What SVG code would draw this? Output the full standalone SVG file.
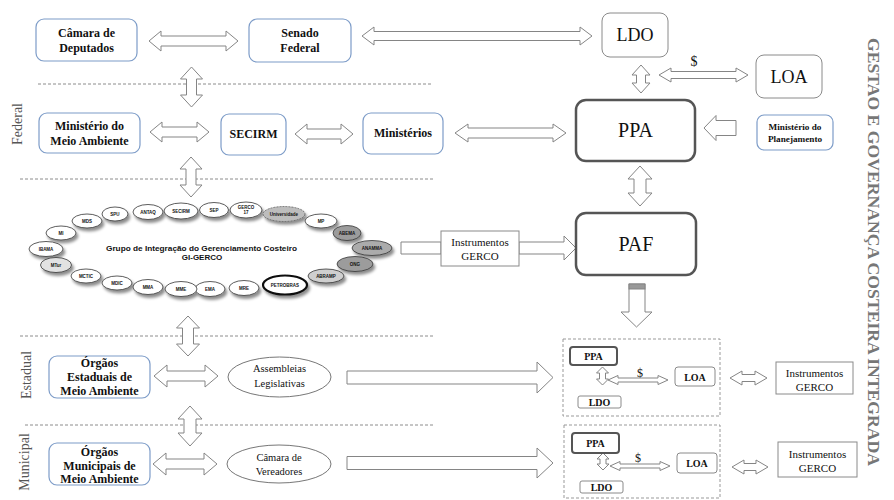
<svg xmlns="http://www.w3.org/2000/svg" width="894" height="500" viewBox="0 0 894 500">
<defs>
<style>
.bx{fill:#fff;stroke:#7d9cc8;stroke-width:1.2}
.gx{fill:#fff;stroke:#8a8a8a;stroke-width:1}
.tk{fill:#fff;stroke:#555;stroke-width:2.5}
.tks{fill:#fff;stroke:#555;stroke-width:2}
.ar{fill:#fff;stroke:#858585;stroke-width:1}
.dl{stroke:#8c8c8c;stroke-width:1;stroke-dasharray:3 2;fill:none}
.db{stroke:#999;stroke-width:1;stroke-dasharray:3 2;fill:none}
.b{font-family:"Liberation Serif",serif;font-weight:bold;font-size:12px;text-anchor:middle;fill:#111}
.bs{font-family:"Liberation Serif",serif;font-weight:bold;font-size:10px;text-anchor:middle;fill:#111}
.bp{font-family:"Liberation Serif",serif;font-weight:bold;font-size:9.2px;text-anchor:middle;fill:#111}
.r{font-family:"Liberation Serif",serif;font-size:11px;text-anchor:middle;fill:#111}
.re{font-family:"Liberation Serif",serif;font-size:10.5px;text-anchor:middle;fill:#111}
.big{font-family:"Liberation Serif",serif;text-anchor:middle;fill:#111}
.side{font-family:"Liberation Serif",serif;font-size:14px;text-anchor:middle;fill:#555}
.el{fill:#fff;stroke:#333;stroke-width:0.8}
.et{font-family:"Liberation Sans",sans-serif;font-weight:bold;font-size:4.5px;text-anchor:middle;fill:#111}
.gt{font-family:"Liberation Sans",sans-serif;font-weight:bold;font-size:8px;text-anchor:middle;fill:#111}
</style>
<filter id="sh" x="-30%" y="-30%" width="160%" height="190%">
<feDropShadow dx="2" dy="3" stdDeviation="1.8" flood-color="#000" flood-opacity="0.45"/>
</filter>
</defs>
<rect width="894" height="500" fill="#fff"/>

<g id="separators">
<line class="dl" x1="38" y1="84" x2="432" y2="84"/>
<line class="dl" x1="20" y1="179" x2="433" y2="179"/>
<line class="dl" x1="20" y1="336" x2="433" y2="336"/>
<line class="dl" x1="25" y1="425" x2="433" y2="425"/>
</g>

<g id="labels">
<text class="side" transform="translate(22,124) rotate(-90)">Federal</text>
<text class="side" transform="translate(31,375) rotate(-90)">Estadual</text>
<text class="side" transform="translate(29,462) rotate(-90)">Municipal</text>
<text transform="translate(868,252) rotate(90)" font-family="Liberation Serif,serif" font-weight="bold" font-size="16" fill="#777" text-anchor="middle" textLength="428" lengthAdjust="spacingAndGlyphs">GESTAO E GOVERNANÇA COSTEIRA INTEGRADA</text>
</g>

<g id="connectors">
<path class="ar" d="M149,41 L161,31 V36 H226 V31 L238,41 L226,51 V46 H161 V51 Z"/>
<path class="ar" d="M362,36 L374,27 V31.5 H580 V27 L592,36 L580,45 V40.5 H374 V45 Z"/>
<path class="ar" d="M191.5,67 L202.5,79 H196.5 V95 H202.5 L191.5,107 L180.5,95 H186.5 V79 H180.5 Z"/>
<path class="ar" d="M150,132 L162,122 V127 H197 V122 L209,132 L197,142 V137 H162 V142 Z"/>
<path class="ar" d="M295,134 L307,124 V129 H341 V124 L353,134 L341,144 V139 H307 V144 Z"/>
<path class="ar" d="M455,133 L468,124 V128 H553 V124 L566,133 L553,142 V138 H468 V142 Z"/>
<path class="ar" d="M191,157 L202,169 H196 V185 H202 L191,197 L180,185 H186 V169 H180 Z"/>
<path class="ar" d="M641,65 L650,75 H645.5 V83 H650 L641,93 L632,83 H636.5 V75 H632 Z"/>
<path class="ar" d="M659,75 L671,68 V71.5 H736 V68 L748,75 L736,82 V78.5 H671 V82 Z"/>
<path class="ar" d="M704,128 L716,115.5 V120.5 H736 V135.5 H716 V140.5 Z"/>
<path class="ar" d="M640,166 L652,179 H646 V193 H652 L640,206 L628,193 H634 V179 H628 Z"/>
<path class="ar" d="M629,284 H645 V312 H652 L636.5,327 L621,312 H629 Z"/>
<rect x="629" y="284" width="16" height="5" fill="#999" stroke="#858585" stroke-width="1"/>
<path class="ar" d="M401,242 H441 V254 H401 Z"/>
<path class="ar" d="M519,242 H564 V236 L576,248 L564,260 V254 H519 Z"/>
<path class="ar" d="M188,316 L199.5,328 H193.5 V344 H199.5 L188,356 L176.5,344 H182.5 V328 H176.5 Z"/>
<path class="ar" d="M154,376 L167,365 V371 H205 V365 L218,376 L205,387 V381 H167 V387 Z"/>
<path class="ar" d="M347,371 H537 V362 L553,377.5 L537,393 V384 H347 Z"/>
<path class="ar" d="M602.5,367 L608.5,373 H605.5 V379 H608.5 L602.5,385 L596.5,379 H599.5 V373 H596.5 Z"/>
<path class="ar" d="M608,380 L618,375.5 V378 H658 V375.5 L668,380 L658,384.5 V382 H618 V384.5 Z"/>
<path class="ar" d="M730,378 L742,371 V374.5 H755 V371 L767,378 L755,385 V381.5 H742 V385 Z"/>
<path class="ar" d="M190,406 L202,419 H196 V433 H202 L190,446 L178,433 H184 V419 H178 Z"/>
<path class="ar" d="M153,464 L166,453 V459 H204 V453 L217,464 L204,475 V469 H166 V475 Z"/>
<path class="ar" d="M347,456.5 H537 V448 L553,463 L537,478 V469.5 H347 Z"/>
<path class="ar" d="M603,453 L609,459 H606 V464 H609 L603,470 L597,464 H600 V459 H597 Z"/>
<path class="ar" d="M610,466 L620,461.5 V464 H660 V461.5 L670,466 L660,470.5 V468 H620 V470.5 Z"/>
<path class="ar" d="M732,467 L744,460 V463.5 H756 V460 L768,467 L756,474 V470.5 H744 V474 Z"/>
</g>

<g id="camara-deputados">
<rect class="bx" x="36" y="19" width="101" height="42" rx="8"/>
<text class="b" x="86.5" y="37">Câmara de</text>
<text class="b" x="86.5" y="52">Deputados</text>
</g>
<g id="senado-federal">
<rect class="bx" x="249" y="19" width="102" height="43" rx="8"/>
<text class="b" x="300" y="37">Senado</text>
<text class="b" x="300" y="52">Federal</text>
</g>
<g id="ldo">
<rect class="gx" x="602" y="13" width="66" height="44" rx="8"/>
<text class="big" x="635" y="41" font-size="18">LDO</text>
</g>
<g id="loa">
<rect class="gx" x="756" y="55" width="66" height="43" rx="8"/>
<text class="big" x="789" y="83" font-size="18">LOA</text>
</g>
<text class="big" x="694" y="66" font-size="14">$</text>
<g id="ministerio-meio-ambiente">
<rect class="bx" x="39" y="113" width="101" height="40" rx="8"/>
<text class="b" x="89.5" y="130">Ministério do</text>
<text class="b" x="89.5" y="145">Meio Ambiente</text>
</g>
<g id="secirm">
<rect class="bx" x="221" y="114" width="65" height="41" rx="8"/>
<text class="b" x="253.5" y="138">SECIRM</text>
</g>
<g id="ministerios">
<rect class="bx" x="363" y="113" width="80" height="41" rx="8"/>
<text class="b" x="403" y="137">Ministérios</text>
</g>
<g id="ppa">
<rect class="tk" x="576" y="100" width="119" height="61" rx="10"/>
<text class="big" x="635.5" y="137" font-size="20">PPA</text>
</g>
<g id="ministerio-planejamento">
<rect class="bx" x="757" y="115" width="76" height="35" rx="7"/>
<text class="bp" x="795" y="130">Ministério do</text>
<text class="bp" x="795" y="142">Planejamento</text>
</g>
<g id="paf">
<rect class="tk" x="576" y="213" width="120" height="62" rx="10"/>
<text class="big" x="636" y="251" font-size="20">PAF</text>
</g>
<g id="instrumentos-gerco-federal">
<rect class="gx" x="441" y="231" width="78" height="35"/>
<text class="r" x="480" y="246">Instrumentos</text>
<text class="r" x="480" y="260">GERCO</text>
</g>

<g id="gi-gerco">
<g filter="url(#sh)">
<ellipse class="el" cx="46" cy="249" rx="17" ry="7.5"/>
<ellipse class="el" cx="61" cy="233" rx="15" ry="7"/>
<ellipse class="el" cx="87" cy="221" rx="15" ry="7"/>
<ellipse class="el" cx="115" cy="214" rx="13" ry="7"/>
<ellipse class="el" cx="148" cy="212" rx="15" ry="7.5"/>
<ellipse class="el" cx="181" cy="211" rx="17" ry="8"/>
<ellipse class="el" cx="214" cy="210" rx="14.5" ry="7.5"/>
<ellipse class="el" cx="246" cy="210" rx="16" ry="8"/>
<ellipse cx="284" cy="214" rx="21" ry="7.5" fill="#bdbdbd" stroke="#555" stroke-width="0.8" stroke-dasharray="2 1"/>
<ellipse class="el" cx="321" cy="221" rx="16" ry="7"/>
<ellipse cx="347" cy="233" rx="14" ry="7.5" fill="#9c9c9c" stroke="#333" stroke-width="0.8"/>
<ellipse cx="372" cy="248" rx="20" ry="7.5" fill="#ababab" stroke="#333" stroke-width="0.8"/>
<ellipse cx="355" cy="264" rx="18" ry="7.5" fill="#9c9c9c" stroke="#333" stroke-width="0.8"/>
<ellipse cx="326" cy="276" rx="18" ry="7" fill="#cfcfcf" stroke="#333" stroke-width="0.8"/>
<ellipse cx="285" cy="285" rx="22" ry="9.5" fill="#fff" stroke="#111" stroke-width="2.2"/>
<ellipse class="el" cx="244" cy="288" rx="15" ry="7.5"/>
<ellipse class="el" cx="210" cy="289" rx="15" ry="7.5"/>
<ellipse class="el" cx="181" cy="289" rx="16" ry="7.5"/>
<ellipse class="el" cx="148" cy="287" rx="15" ry="7.5"/>
<ellipse class="el" cx="117" cy="283" rx="15" ry="7"/>
<ellipse class="el" cx="86" cy="276" rx="15" ry="7"/>
<ellipse cx="56" cy="265" rx="15.5" ry="7.5" fill="#e2e2e2" stroke="#333" stroke-width="0.8"/>
</g>
<text class="et" x="46" y="250.6">IBAMA</text>
<text class="et" x="61" y="234.6">MI</text>
<text class="et" x="87" y="222.6">MDS</text>
<text class="et" x="115" y="215.6">SPU</text>
<text class="et" x="148" y="213.6">ANTAQ</text>
<text class="et" x="181" y="212.6">SECIRM</text>
<text class="et" x="214" y="211.6">SEP</text>
<text class="et" x="246" y="209">GERCO</text>
<text class="et" x="246" y="214">17</text>
<text class="et" x="284" y="215.6">Universidade</text>
<text class="et" x="321" y="222.6">MP</text>
<text class="et" x="347" y="234.6">ABEMA</text>
<text class="et" x="372" y="249.6">ANAMMA</text>
<text class="et" x="355" y="265.6">ONG</text>
<text class="et" x="326" y="277.6">ABRAMP</text>
<text class="et" x="285" y="286.6">PETROBRAS</text>
<text class="et" x="244" y="289.6">MRE</text>
<text class="et" x="210" y="290.6">EMA</text>
<text class="et" x="181" y="290.6">MME</text>
<text class="et" x="148" y="288.6">MMA</text>
<text class="et" x="117" y="284.6">MDIC</text>
<text class="et" x="86" y="277.6">MCTIC</text>
<text class="et" x="56" y="266.6">MTur</text>
<text class="gt" x="201.5" y="251" textLength="191" lengthAdjust="spacingAndGlyphs">Grupo de Integração do Gerenciamento Costeiro</text>
<text class="gt" x="202" y="260">GI-GERCO</text>
</g>

<g id="orgaos-estaduais">
<rect class="bx" x="49" y="356" width="101" height="42" rx="8"/>
<text class="b" x="99.5" y="367">Órgãos</text>
<text class="b" x="99.5" y="381">Estaduais de</text>
<text class="b" x="99.5" y="395">Meio Ambiente</text>
</g>
<g id="assembleias">
<ellipse cx="279.5" cy="377" rx="51.5" ry="20" fill="#fff" stroke="#777" stroke-width="1"/>
<text class="re" x="279.5" y="372">Assembleias</text>
<text class="re" x="279.5" y="387">Legislativas</text>
</g>
<g id="estadual-orcamento">
<rect class="db" x="563" y="339" width="157" height="77"/>
<rect class="tks" x="570" y="347" width="47" height="18" rx="3"/>
<text class="bs" x="593.5" y="359.5">PPA</text>
<rect class="gx" x="578" y="396" width="43" height="12" rx="2"/>
<text class="bs" x="599.5" y="405.5">LDO</text>
<text class="big" x="640" y="377" font-size="12">$</text>
<rect class="gx" x="675" y="367" width="40" height="19" rx="3"/>
<text class="bs" x="695" y="380.5">LOA</text>
</g>
<g id="instrumentos-gerco-estadual">
<rect class="gx" x="776" y="362" width="77" height="32"/>
<text class="r" x="814.5" y="377">Instrumentos</text>
<text class="r" x="814.5" y="391">GERCO</text>
</g>

<g id="orgaos-municipais">
<rect class="bx" x="49" y="443" width="101" height="42" rx="8"/>
<text class="b" x="99.5" y="456">Órgãos</text>
<text class="b" x="99.5" y="470">Municipais de</text>
<text class="b" x="99.5" y="483">Meio Ambiente</text>
</g>
<g id="camara-vereadores">
<ellipse cx="279" cy="464" rx="52" ry="19" fill="#fff" stroke="#777" stroke-width="1"/>
<text class="re" x="279" y="461">Câmara de</text>
<text class="re" x="279" y="475">Vereadores</text>
</g>
<g id="municipal-orcamento">
<rect class="db" x="564" y="425" width="156" height="73"/>
<rect class="tks" x="572" y="433" width="47" height="20" rx="3"/>
<text class="bs" x="595.5" y="447">PPA</text>
<rect class="gx" x="580" y="481" width="43" height="12" rx="2"/>
<text class="bs" x="601.5" y="490.5">LDO</text>
<text class="big" x="638" y="462" font-size="12">$</text>
<rect class="gx" x="677" y="453" width="40" height="20" rx="3"/>
<text class="bs" x="697" y="467">LOA</text>
</g>
<g id="instrumentos-gerco-municipal">
<rect class="gx" x="778" y="442" width="79" height="35"/>
<text class="r" x="817.5" y="458">Instrumentos</text>
<text class="r" x="817.5" y="472">GERCO</text>
</g>
</svg>
